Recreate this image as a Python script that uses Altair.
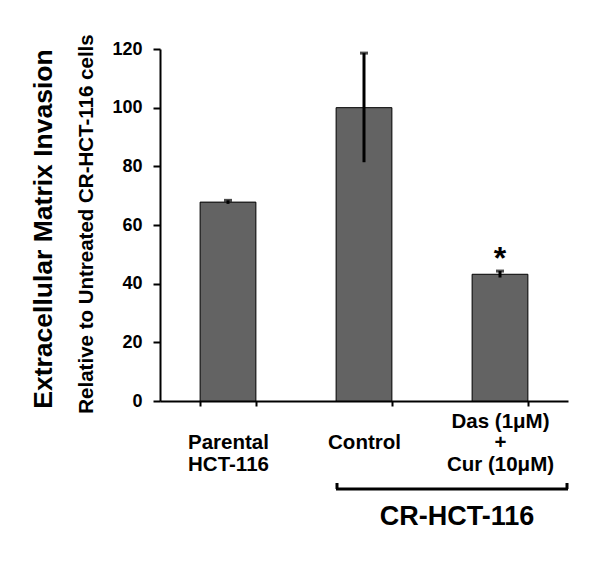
import altair as alt
import pandas as pd

categories = ["Parental\nHCT-116", "Control", "Das (1μM)\n+\nCur (10μM)"]
values = [67.8, 100.0, 43.2]
errors = [0.6, 18.6, 1.1]
marks = ["", "", "*"]
y_ticks = [0, 20, 40, 60, 80, 100, 120]

df = pd.DataFrame({"cat": categories, "val": values, "err": errors, "mark": marks})
df["lo"] = df["val"] - df["err"]
df["hi"] = df["val"] + df["err"]

FONT = "Liberation Sans"

label_expr = ("indexof(datum.label, 'Das') >= 0 ? split(datum.label, '\\n') "
              ": split('\\n' + datum.label, '\\n')")

xenc = alt.X("cat:N", sort=categories, title=None,
             scale=alt.Scale(paddingInner=0.59, paddingOuter=0.295),
             axis=alt.Axis(labelAngle=0, labelExpr=label_expr,
                           labelFontSize=20.5, labelLineHeight=21.5, labelFont=FONT,
                           labelFontWeight="bold", labelColor="black",
                           labelBaseline="middle", labelPadding=15,
                           tickBand="extent", tickSize=5, tickWidth=2, tickColor="black",
                           domainWidth=2, domainColor="black"))
yscale = alt.Scale(domain=[0, 120], nice=False)
yaxis = alt.Axis(values=y_ticks, grid=False, labelFontSize=18, labelFont=FONT,
                 labelFontWeight="bold", labelColor="black", tickSize=7, tickWidth=2,
                 tickColor="black", domainWidth=2, domainColor="black", labelPadding=11)

base = alt.Chart(df)
bars = base.mark_bar(fill="#636363", stroke="black", strokeWidth=1).encode(
    x=xenc, y=alt.Y("val:Q", scale=yscale, axis=yaxis, title=None))
err = base.mark_rule(color="black", strokeWidth=3).encode(
    x=alt.X("cat:N", sort=categories), y="lo:Q", y2="hi:Q")
cap = base.mark_tick(color="black", thickness=3, size=8).encode(
    x=alt.X("cat:N", sort=categories), y="hi:Q")
star = base.mark_text(font=FONT, fontSize=32, fontWeight="bold", color="black",
                      baseline="alphabetic", dy=-2).encode(
    x=alt.X("cat:N", sort=categories), y="hi:Q", text="mark:N")

ann = pd.DataFrame({"t": ["x"]})
title1 = alt.Chart(ann).mark_text(text="Extracellular Matrix Invasion", font=FONT, fontSize=26.5,
                                  fontWeight="bold", angle=270, align="center",
                                  baseline="alphabetic", color="black").encode(
    x=alt.value(-108), y=alt.value(180))
title2 = alt.Chart(ann).mark_text(text="Relative  to Untreated CR-HCT-116 cells", font=FONT,
                                  fontSize=20.5, fontWeight="bold", angle=270, align="center",
                                  baseline="alphabetic", color="black").encode(
    x=alt.value(-67), y=alt.value(175))
bracket = alt.Chart(ann).mark_rule(color="black", strokeWidth=3).encode(
    x=alt.value(176), x2=alt.value(408), y=alt.value(440))
bl = alt.Chart(ann).mark_rule(color="black", strokeWidth=3).encode(
    x=alt.value(177), y=alt.value(434), y2=alt.value(440))
br = alt.Chart(ann).mark_rule(color="black", strokeWidth=3).encode(
    x=alt.value(407), y=alt.value(434), y2=alt.value(440))
group = alt.Chart(ann).mark_text(text="CR-HCT-116", font=FONT, fontSize=27, fontWeight="bold",
                                 align="center", baseline="alphabetic", color="black").encode(
    x=alt.value(297), y=alt.value(476))

chart = alt.layer(bars, err, cap, star, title1, title2, bracket, bl, br, group).properties(
    width=408, height=352,
    autosize=alt.AutoSizeParams(type="none"),
    padding={"left": 152, "top": 41, "right": 20, "bottom": 140},
    background="white",
).configure_view(strokeWidth=0)

chart.save("out.html", embed_options={"renderer": "svg", "actions": False})
